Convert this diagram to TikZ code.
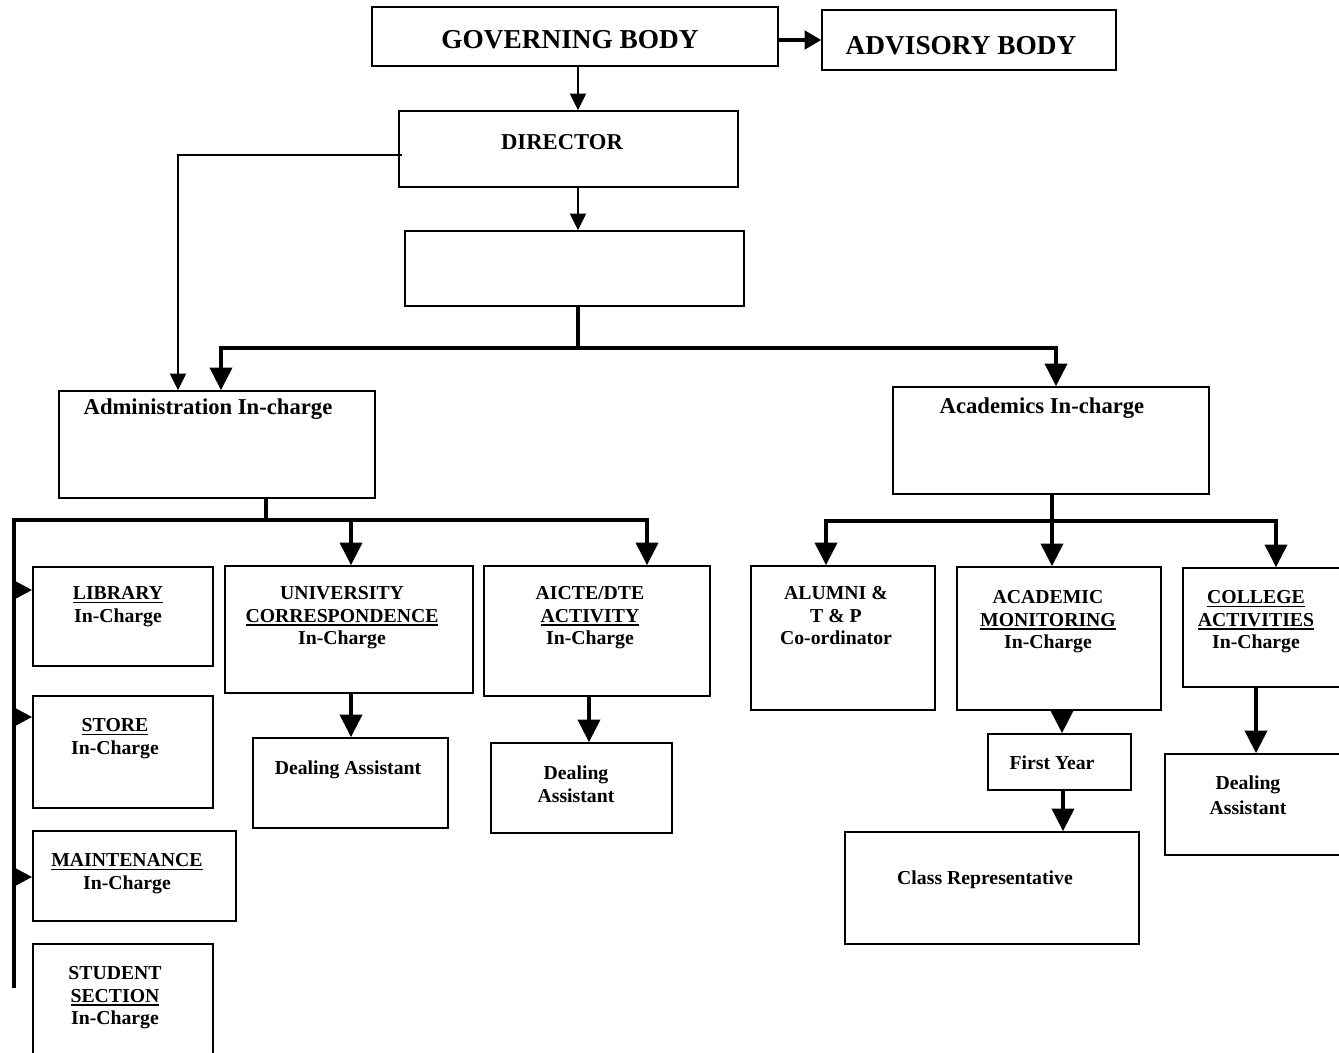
\documentclass[tikz,border=0pt]{standalone}
\usepackage{fontspec}
\setmainfont{Liberation Serif}
\usetikzlibrary{arrows.meta,fit,calc}
\newcommand\ulb[1]{\setbox0\hbox{#1}\rlap{\rule[-2.6pt]{\wd0}{1.1pt}}\box0}
\begin{document}
\begin{tikzpicture}[x=0.75pt,y=-0.75pt,
  box/.style={draw, line width=1.2pt, inner sep=0pt, rectangle},
  txt/.style={font=\bfseries\fontsize{14.8}{16.9}\selectfont, align=center, inner sep=0pt},
  head/.style={font=\bfseries\fontsize{17}{20}\selectfont, inner sep=0pt},
  big/.style={font=\bfseries\fontsize{20.5}{24}\selectfont, inner sep=0pt},
  thinarrow/.style={line width=1.5pt, -{Triangle[length=12.5pt,width=12pt]}},
  mediumarrow/.style={line width=2.4pt, -{Triangle[length=12.5pt,width=14pt]}},
  bigarrow/.style={line width=3pt, -{Triangle[length=17pt,width=16.5pt]}},
  sidearrow/.style={line width=3pt, -{Triangle[length=15pt,width=15pt]}},
  busline/.style={line width=3pt}]
\useasboundingbox (0,0) rectangle (1339,1053);

% ---------- boxes ----------
\node[box, fit={(372,7)(778,66)}] (gov) {};
\node[box, fit={(822,10)(1116,70)}] (adv) {};
\node[box, fit={(399,111)(738,187)}] (dir) {};
\node[box, fit={(405,231)(744,306)}] (blank) {};
\node[box, fit={(59,391)(375,498)}] (adm) {};
\node[box, fit={(893,387)(1209,494)}] (acad) {};
\node[box, fit={(33,567)(213,666)}] (lib) {};
\node[box, fit={(33,696)(213,808)}] (store) {};
\node[box, fit={(33,831)(236,921)}] (maint) {};
\node[box, fit={(33,944)(213,1058)}] (stud) {};
\node[box, fit={(225,566)(473,693)}] (uc) {};
\node[box, fit={(253,738)(448,828)}] (da1) {};
\node[box, fit={(484,566)(710,696)}] (aicte) {};
\node[box, fit={(491,743)(672,833)}] (da2) {};
\node[box, fit={(751,566)(935,710)}] (alum) {};
\node[box, fit={(957,567)(1161,710)}] (am) {};
\node[box, fit={(1183,568)(1345,687)}] (coll) {};
\node[box, fit={(988,734)(1131,790)}] (fy) {};
\node[box, fit={(845,832)(1139,944)}] (cr) {};
\node[box, fit={(1165,754)(1345,855)}] (da3) {};

% ---------- texts ----------
\node[big, anchor=base] (govt) at (570,48) {GOVERNING BODY};
\node[big, anchor=base] (advt) at (961,54) {ADVISORY BODY};
\node[head, anchor=base] (dirt) at (562,149.5) {DIRECTOR};
\node[head, anchor=base] (admt) at (208,414) {Administration In-charge};
\node[head, anchor=base] (acadt) at (1042,413) {Academics In-charge};
\node[txt, anchor=north] (libt) at (118,586.5) {\ulb{LIBRARY}\\In-Charge};
\node[txt, anchor=north] (storet) at (115,718.5) {\ulb{STORE}\\In-Charge};
\node[txt, anchor=north] (maintt) at (127,853.5) {\ulb{MAINTENANCE}\\In-Charge};
\node[txt, anchor=north] (studt) at (115,966.5) {STUDENT\\\ulb{SECTION}\\In-Charge};
\node[txt, anchor=north] (uct) at (342,586.5) {UNIVERSITY\\\ulb{CORRESPONDENCE}\\In-Charge};
\node[txt, anchor=base] (da1t) at (348,774) {Dealing Assistant};
\node[txt, anchor=north] (aictet) at (590,586.5) {AICTE/DTE\\\ulb{ACTIVITY}\\In-Charge};
\node[txt, anchor=north] (da2t) at (576,765.5) {Dealing\\Assistant};
\node[txt, anchor=north] (alumt) at (836,586.5) {ALUMNI \&\\T \& P\\Co-ordinator};
\node[txt, anchor=north] (amt) at (1048,590.5) {ACADEMIC\\\ulb{MONITORING}\\In-Charge};
\node[txt, anchor=north] (collt) at (1256,590.5) {\ulb{COLLEGE}\\\ulb{ACTIVITIES}\\In-Charge};
\node[txt, anchor=base] (fyt) at (1052,769) {First Year};
\node[txt, anchor=base] (crt) at (985,884) {Class Representative};
\node[txt, anchor=north] (da3t) at (1248,775.5) {Dealing\\[2pt]Assistant};

% ---------- connector coordinates ----------
\coordinate (xg) at (578,0);
\coordinate (yga) at (0,40);
\coordinate (yd) at (0,155);
\coordinate (xd) at (178,0);
\coordinate (hbL) at (221,348);
\coordinate (hbR) at (1056,348);
\coordinate (ab) at (266,520);
\coordinate (abL) at (14,520);
\coordinate (abR) at (647,520);
\coordinate (abE) at (14,988);
\coordinate (a1) at (351,520);
\coordinate (y1) at (0,590);
\coordinate (y2) at (0,717);
\coordinate (y3) at (0,877);
\coordinate (cb) at (1052,521);
\coordinate (cbL) at (826,521);
\coordinate (cbR) at (1276,521);
\coordinate (xam) at (1062,0);
\coordinate (xfy) at (1063,0);
\coordinate (xco) at (1256,0);
\coordinate (xda2) at (589,0);

% ---------- connectors ----------
\draw[mediumarrow] (gov.east |- yga) -- (adv.west |- yga);
\draw[thinarrow] (xg |- gov.south) -- (xg |- dir.north);
\draw[thinarrow] (xg |- dir.south) -- (xg |- blank.north);
\draw[thinarrow] ($(dir.west |- yd)+(4,0)$) -- (xd |- yd) -- (xd |- adm.north);

\draw[busline] (xg |- blank.south) -- (xg |- hbL);
\draw[line width=3pt, {Triangle[length=17pt,width=16.5pt]}-{Triangle[length=17pt,width=16.5pt]}]
  (hbL |- adm.north) -- (hbL) -- (hbR) -- (hbR |- acad.north);

\draw[busline] (ab |- adm.south) -- (ab);
\draw[bigarrow] (abE) -- (abL) -- (abR) -- (abR |- aicte.north);
\draw[bigarrow] (a1) -- (a1 |- uc.north);
\draw[sidearrow] (abL |- y1) -- (lib.west |- y1);
\draw[sidearrow] (abL |- y2) -- (store.west |- y2);
\draw[sidearrow] (abL |- y3) -- (maint.west |- y3);

\draw[bigarrow] (a1 |- uc.south) -- (a1 |- da1.north);
\draw[bigarrow] (xda2 |- aicte.south) -- (xda2 |- da2.north);

\draw[bigarrow] (cb |- acad.south) -- (cb |- am.north);
\draw[line width=3pt, {Triangle[length=17pt,width=16.5pt]}-{Triangle[length=17pt,width=16.5pt]}]
  (cbL |- alum.north) -- (cbL) -- (cbR) -- (cbR |- coll.north);

\draw[bigarrow] (xam |- am.south) -- (xam |- fy.north);
\draw[bigarrow] (xfy |- fy.south) -- (xfy |- cr.north);
\draw[bigarrow] (xco |- coll.south) -- (xco |- da3.north);
\end{tikzpicture}
\end{document}
